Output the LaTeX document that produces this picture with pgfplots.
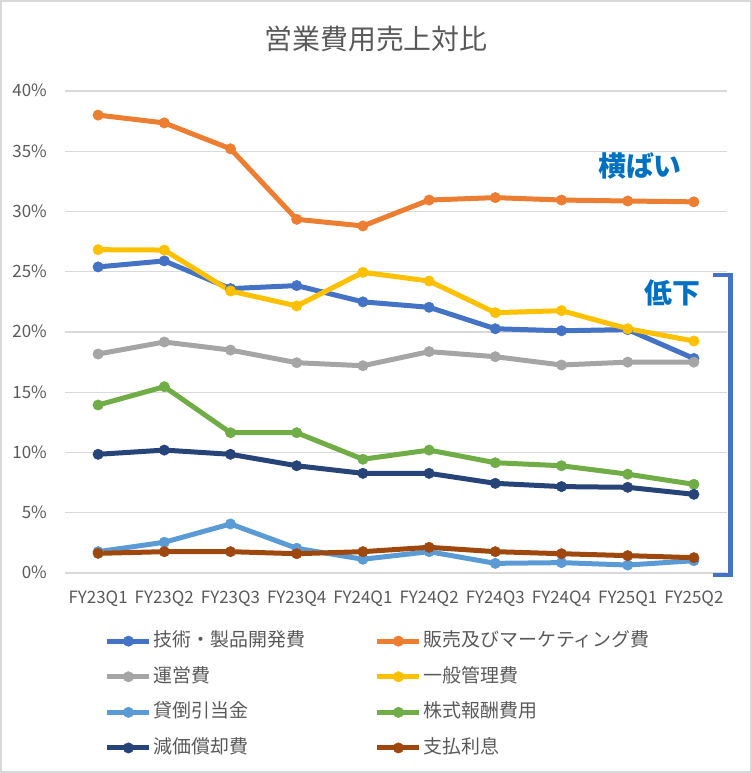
\documentclass[border=0pt]{standalone}
\usepackage{pgfplots}
\pgfplotsset{compat=1.18}
\usepackage{fontspec}
\setmainfont{Noto Sans CJK JP}
\definecolor{cBlue}{HTML}{4472C4}
\definecolor{cOrange}{HTML}{ED7D31}
\definecolor{cGray}{HTML}{A5A5A5}
\definecolor{cYellow}{HTML}{FFC000}
\definecolor{cLBlue}{HTML}{5B9BD5}
\definecolor{cGreen}{HTML}{70AD47}
\definecolor{cNavy}{HTML}{264478}
\definecolor{cBrown}{HTML}{9E480E}
\definecolor{cTxt}{HTML}{595959}
\definecolor{cGrid}{HTML}{D9D9D9}
\definecolor{cAnn}{HTML}{0070C0}
\begin{document}
\begin{tikzpicture}[x=1bp,y=1bp]
\path (0,0) rectangle (752,773);
\draw[cGrid, line width=2bp] (1,1) rectangle (751,772);
\node[anchor=base, text=cTxt, font=\fontsize{28}{32}\selectfont] at (376,723.5) {営業費用売上対比};
\begin{axis}[
  at={(65bp,200bp)}, anchor=south west,
  scale only axis, width=662bp, height=482bp,
  xmin=-0.5, xmax=9.5, ymin=0, ymax=40,
  clip=false,
  axis line style={draw=none},
  ytick={0,5,...,40},
  xtick={0,...,9},
  xticklabels={FY23Q1,FY23Q2,FY23Q3,FY23Q4,FY24Q1,FY24Q2,FY24Q3,FY24Q4,FY25Q1,FY25Q2},
  major tick length=0pt,
  xmajorgrids=false, ymajorgrids=true,
  y grid style={cGrid, line width=1.2bp},
  /pgf/number format/assume math mode=true,
  yticklabel={\pgfmathprintnumber{\tick}\%},
  ticklabel style={font=\fontsize{17}{20}\selectfont, text=cTxt, inner sep=0pt},
  yticklabel style={anchor=base east, xshift=-18bp, yshift=-6bp},
  xticklabel style={anchor=base, yshift=-31bp},
  every axis plot/.append style={line width=5bp, mark=*, mark size=5.2bp, mark options={line width=0.5bp, solid}},
  legend columns=2,
  legend style={at={(axis description cs:0.0555,-0.113)}, anchor=north west, draw=none, fill=none,
    font=\fontsize{19}{22}\selectfont, text=cTxt,
    nodes={inner sep=2bp, text height=15bp, text depth=4bp},
    row sep=12.6bp},
  legend cell align=left,
  legend image code/.code={\draw[mark repeat=2,mark phase=2,#1] plot coordinates {(0bp,0bp) (21bp,0bp) (42bp,0bp)};},
]
\addplot[cBlue] coordinates {(0,25.4) (1,25.9) (2,23.6) (3,23.85) (4,22.5) (5,22.05) (6,20.27) (7,20.1) (8,20.2) (9,17.8)};
\addlegendentry{\makebox[219bp][l]{技術・製品開発費}}
\addplot[cOrange] coordinates {(0,38.0) (1,37.35) (2,35.2) (3,29.35) (4,28.8) (5,30.95) (6,31.15) (7,30.95) (8,30.87) (9,30.8)};
\addlegendentry{販売及びマーケティング費}
\addplot[cGray] coordinates {(0,18.17) (1,19.17) (2,18.5) (3,17.45) (4,17.2) (5,18.37) (6,17.95) (7,17.26) (8,17.5) (9,17.5)};
\addlegendentry{\makebox[219bp][l]{運営費}}
\addplot[cYellow] coordinates {(0,26.83) (1,26.8) (2,23.4) (3,22.16) (4,24.95) (5,24.23) (6,21.6) (7,21.77) (8,20.27) (9,19.25)};
\addlegendentry{一般管理費}
\addplot[cLBlue] coordinates {(0,1.77) (1,2.55) (2,4.07) (3,2.05) (4,1.14) (5,1.77) (6,0.8) (7,0.86) (8,0.66) (9,1.02)};
\addlegendentry{\makebox[219bp][l]{貸倒引当金}}
\addplot[cGreen] coordinates {(0,13.94) (1,15.46) (2,11.64) (3,11.64) (4,9.44) (5,10.2) (6,9.15) (7,8.9) (8,8.2) (9,7.36)};
\addlegendentry{株式報酬費用}
\addplot[cNavy] coordinates {(0,9.85) (1,10.2) (2,9.85) (3,8.9) (4,8.27) (5,8.27) (6,7.44) (7,7.17) (8,7.11) (9,6.53)};
\addlegendentry{\makebox[219bp][l]{減価償却費}}
\addplot[cBrown] coordinates {(0,1.63) (1,1.77) (2,1.77) (3,1.6) (4,1.77) (5,2.13) (6,1.77) (7,1.6) (8,1.44) (9,1.27)};
\addlegendentry{支払利息}
\end{axis}
\node[anchor=base, text=cAnn, font=\fontsize{28}{32}\selectfont\bfseries] at (640,596.4) {横ばい};
\node[anchor=base, text=cAnn, font=\fontsize{28}{32}\selectfont\bfseries] at (672.5,469.7) {低下};
\draw[cBlue, line width=4.3bp, line join=miter] (713,498) -- (730.5,498) -- (730.5,198) -- (713,198);
\end{tikzpicture}
\end{document}
